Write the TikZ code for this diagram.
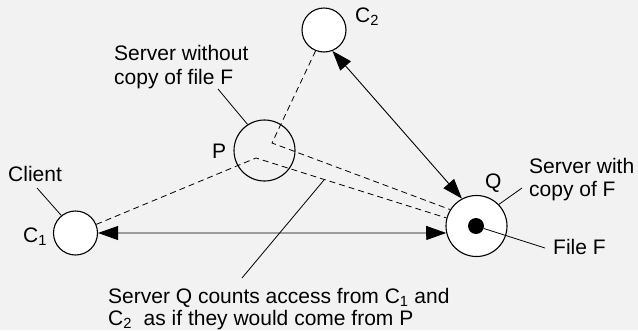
\documentclass[tikz,border=0pt]{standalone}
\usepackage{fontspec}
\setmainfont{Liberation Sans}
\usetikzlibrary{arrows.meta}
\definecolor{bggray}{RGB}{242,242,242}

\begin{document}
\begin{tikzpicture}[x=1pt,y=-1pt,
        host/.style={circle,draw,line width=1.1pt,inner sep=0pt},
        ptr/.style={line width=0.8pt},
        conn/.style={line width=0.9pt,{Triangle[length=20pt,width=14pt]}-{Triangle[length=20pt,width=14pt]}},
        via/.style={dash pattern=on 6pt off 4pt,line width=0.8pt},
        lbl/.style={inner sep=0pt,font=\fontsize{21}{23.5}\selectfont}]
        \fill[bggray] (0,0) rectangle (638,330);
        \useasboundingbox (0,0) rectangle (638,330);
        % hosts
        \node[host,fill=white,minimum size=44pt] (c1) at (75.5,233) {};
        \node[host,fill=white,minimum size=44pt] (c2) at (324,30) {};
        \node[host,minimum size=61pt] (p) at (264.5,150.5) {};
        \node[host,fill=white,minimum size=61pt] (q) at (476.5,226) {};
        \node[circle,fill=black,minimum size=16pt,inner sep=0pt] (filedot) at (476,226) {};
        % labels (two-line ones sit on their last baseline)
        \node[lbl,anchor=base west] (c2lbl) at (355,22) {C\textsubscript{2}};
        \node[lbl,anchor=base west,align=left] (plbl) at (114,84.3) {Server without\\copy of file F};
        \node[lbl,anchor=base west] (pname) at (212,158) {P};
        \node[lbl,anchor=base west] (clientlbl) at (8,181.5) {Client};
        \node[lbl,anchor=base west] (c1lbl) at (23,242) {C\textsubscript{1}};
        \node[lbl,anchor=base west] (qname) at (485,188) {Q};
        \node[lbl,anchor=base west,align=left,font=\fontsize{21}{23}\selectfont] (qlbl) at (529,196) {Server with\\copy of F};
        \node[lbl,anchor=base west] (filelbl) at (553,254) {File F};
        \node[lbl,anchor=base west,align=left,font=\fontsize{21}{22}\selectfont] (notelbl) at (108,325) {Server Q counts access from C\textsubscript{1} and\\C\textsubscript{2}~~as if they would come from P};
        % free ends
        \coordinate (pa) at (256,158);
        \coordinate (pb) at (272,143);
        \coordinate (plblend) at (218,89);
        \coordinate (clientend) at (37,188);
        \coordinate (qend) at (522,188);
        \coordinate (fileend) at (545,248);
        \coordinate (noteend) at (242,278);
        \coordinate (notetip) at (324,180);
        % connectors
        \draw[via] (c1) -- (pa) -- (q.165);
        \draw[via] (c2.248) -- (pb) -- (q.148);
        \draw[conn] (c1.east) -- (q.193);
        \draw[conn] (c2.-68) -- (q.118);
        \draw[ptr] (plblend) -- (p.123);
        \draw[ptr] (clientend) -- (c1.129);
        \draw[ptr] (q.44) -- (qend);
        \draw[ptr] (filedot) -- (fileend);
        \draw[ptr] (noteend) -- (notetip);
\end{tikzpicture}
\end{document}
